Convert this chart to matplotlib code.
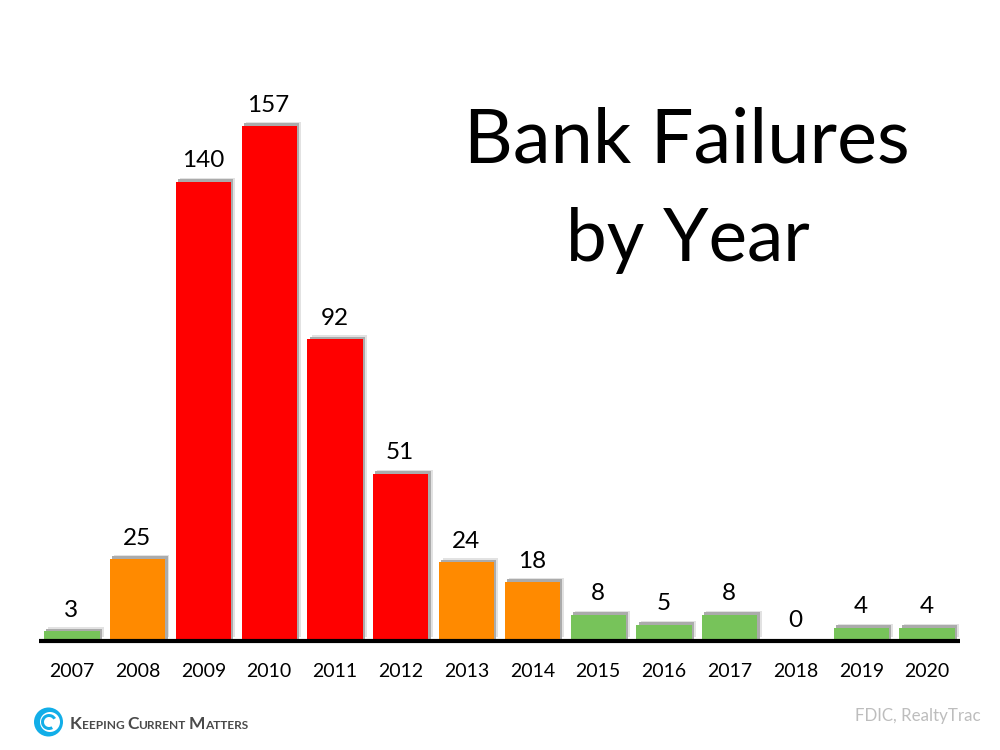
import matplotlib
matplotlib.use("Agg")
import matplotlib.pyplot as plt
import matplotlib.patheffects as pe
from matplotlib.patches import Circle, Wedge

plt.rcParams["font.family"] = ["Lato", "DejaVu Sans"]

years = ["2007", "2008", "2009", "2010", "2011", "2012", "2013",
         "2014", "2015", "2016", "2017", "2018", "2019", "2020"]
failures = [3, 25, 140, 157, 92, 51, 24, 18, 8, 5, 8, 0, 4, 4]

GREEN = "#77c35a"
ORANGE = "#ff8a00"
RED = "#ff0000"
colors = [GREEN, ORANGE, RED, RED, RED, RED, ORANGE,
          ORANGE, GREEN, GREEN, GREEN, GREEN, GREEN, GREEN]

fig = plt.figure(figsize=(10, 7.5), dpi=100)
ax = fig.add_axes([0.039, 109 / 750, 0.921, 641 / 750])

bars = ax.bar(range(len(years)), failures, width=0.84, color=colors, linewidth=0)
for bar, val in zip(bars, failures):
    if val == 0:
        bar.set_visible(False)
        continue
    bar.set_path_effects([
        pe.SimplePatchShadow(offset=(3, 2.8), shadow_rgbFace="#e2e2e2", alpha=1),
        pe.SimplePatchShadow(offset=(1.6, 1.8), shadow_rgbFace="#ababab", alpha=1),
        pe.Normal(),
    ])

for i, val in enumerate(failures):
    ax.annotate(str(val), (i, val), xytext=(-0.5, 7.5), textcoords="offset points",
                ha="center", va="bottom", fontsize=17.5, color="black")

ax.set_xlim(-0.5, 13.5)
ax.set_ylim(0, 195.4)
ax.set_yticks([])
ax.set_xticks(range(len(years)))
ax.set_xticklabels(years, fontsize=14)
ax.tick_params(axis="x", length=0, pad=15.5)
for side in ["top", "left", "right"]:
    ax.spines[side].set_visible(False)
ax.spines["bottom"].set_linewidth(3)
ax.spines["bottom"].set_capstyle("butt")
ax.patch.set_alpha(0)

fig.text(0.687, 1 - 141 / 750, "Bank Failures", ha="center", va="center", fontsize=54.5, color="black")
fig.text(0.688, 1 - 241 / 750, "by Year", ha="center", va="center", fontsize=52.5, color="black")

fig.text(0.981, 1 - 716 / 750, "FDIC, RealtyTrac", ha="right", va="center", fontsize=12.2, color="#bdbdbd")

# logo swirl, drawn in pixel coordinates
logo = fig.add_axes([0, 0, 1, 1], zorder=5)
logo.set_xlim(0, 1000)
logo.set_ylim(750, 0)
logo.axis("off")
BLUE = "#12aee8"
logo.add_patch(Circle((48.5, 722), 14.5, color=BLUE, lw=0))
logo.add_patch(Circle((50, 722), 10, color="white", lw=0))
logo.add_patch(Wedge((49, 722), 8, 60, 330, width=3, color=BLUE, lw=0))

# small caps wordmark, one piece after another
renderer = fig.canvas.get_renderer()
x = 70
for word, big in [("K", True), ("EEPING", False), ("C", True), ("URRENT", False),
                  ("M", True), ("ATTERS", False)]:
    t = logo.text(x, 729, word, fontsize=12.5 if big else 8.6, fontweight="bold",
                  color="#4a4a4a", ha="left", va="baseline")
    x = logo.transData.inverted().transform(t.get_window_extent(renderer))[1][0] + (0 if big else 2.5)

fig.savefig("out.png", dpi=100)
